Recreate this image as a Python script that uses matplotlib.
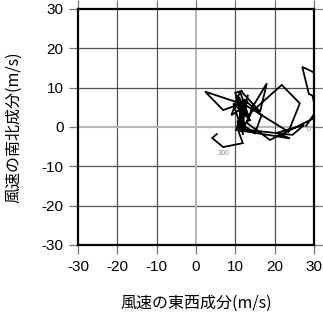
import matplotlib
matplotlib.use("Agg")
import matplotlib.pyplot as plt

# Hodograph trajectory (u: east-west, v: north-south)
u = [28.0, 30.5, 29.6, 28.7, 27.0, 29.7, 30.5, 30.5, 23.5, 18.8, 13.0, 14.2,
     18.0, 16.3, 12.0, 11.6, 10.0, 12.5, 11.0, 13.5, 9.5, 12.0, 10.5, 13.8,
     11.2, 9.0, 12.8, 10.8, 13.2, 11.5, 14.2, 21.8, 26.4, 23.5, 12.5, 2.3,
     6.9, 13.0, 10.2, 12.2, 16.7, 15.0, 10.5, 11.0, 24.5, 27.5, 20.5, 23.9,
     10.7, 11.9, 6.9, 4.1, 5.3]
v = [0.3, 4.0, 8.0, 8.4, 15.3, 14.0, 13.0, 2.5, -1.0, -3.3, 1.0, 4.8,
     11.1, 3.9, 8.5, 9.2, 8.7, -0.5, 7.5, 2.0, 6.0, -2.0, 8.0, 1.5,
     9.0, 3.0, 5.5, 0.5, 8.2, -1.2, 3.9, 10.7, 6.0, -1.2, 5.6, 9.0,
     4.3, 6.5, -1.0, 7.0, 3.1, -1.6, 1.5, -0.5, -2.0, 0.5, -1.5, -2.9,
     -0.8, -4.1, -5.1, -2.8, -1.8]
step_labels = ["0", "300"]
step_label_pos_u = [28.6, 6.9]
step_label_pos_v = [-0.6, -6.7]

ticks = [-30, -20, -10, 0, 10, 20, 30]
tick_labels = ["-30", "-20", "-10", "0", "10", "20", "30"]

plt.rcParams['font.family'] = ['Liberation Sans', 'DejaVu Sans']

fig = plt.figure(figsize=(3.23, 3.13), dpi=100)
ax = fig.add_axes([78/323, 1-245/313, 236/323, 236/313])
ax.set_xlim(-30, 30)
ax.set_ylim(-30, 30)

for t in ticks:
    if t in (-30, 30):
        continue
    c = '#b8b8b8' if t == 0 else '#555555'
    lw = 1.5 if t == 0 else 0.9
    ax.axvline(t, color=c, lw=lw, zorder=1)
    ax.axhline(t, color=c, lw=lw, zorder=1)

ax.plot(u, v, color='black', lw=1.3, zorder=3, solid_joinstyle='miter')
for s, x, y in zip(step_labels, step_label_pos_u, step_label_pos_v):
    ax.text(x, y, s, fontsize=5, color='#888888', ha='center', va='center', zorder=4)

ax.set_xticks(ticks)
ax.set_yticks(ticks)
ax.set_xticklabels(tick_labels)
ax.set_yticklabels(tick_labels)
ax.tick_params(direction='out', length=6.5, width=0.9, color='#777777',
               labelsize=11, pad=4, top=True, right=True)
for sp in ax.spines.values():
    sp.set_linewidth(1.6)
    sp.set_color('black')

jp = ['Noto Sans CJK JP', 'DejaVu Sans']
ax.set_xlabel('風速の東西成分(m/s)', family=jp, fontsize=11.5, labelpad=15)
ax.set_ylabel('風速の南北成分(m/s)', family=jp, fontsize=11.5, labelpad=14)

fig.savefig('out.png', dpi=100)
